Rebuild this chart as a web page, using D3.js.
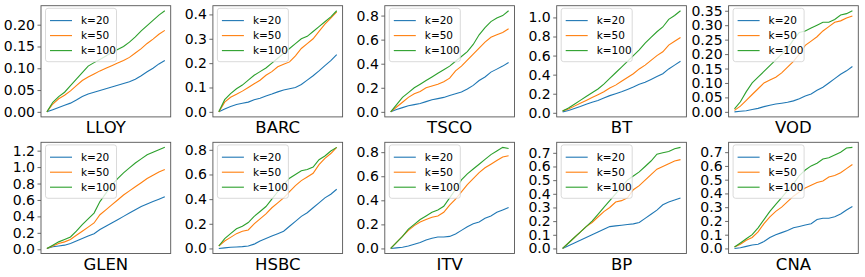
<!DOCTYPE html>
<html>
<head>
<meta charset="utf-8">
<script src="https://cdn.jsdelivr.net/npm/d3@7"></script>
<style>
  body { margin: 0; background: #fff; }
  text { font-family: "DejaVu Sans", sans-serif; }
</style>
</head>
<body>
<svg id="chart" width="865" height="277"></svg>
<script>
// series: k=20, k=50, k=100 (21 evenly spaced steps each)
var stocks = ["LLOY", "BARC", "TSCO", "BT", "VOD", "GLEN", "HSBC", "ITV", "BP", "CNA"];
var kLabels = ["k=20", "k=50", "k=100"];
var colors = ["#1f77b4", "#ff7f0e", "#2ca02c"];

var lloy = [
  [0, 0.005, 0.01, 0.015, 0.02, 0.027, 0.035, 0.041, 0.045, 0.049, 0.053, 0.057, 0.061, 0.065, 0.069, 0.075, 0.083, 0.092, 0.1, 0.11, 0.118],
  [0, 0.018, 0.03, 0.038, 0.048, 0.06, 0.072, 0.08, 0.087, 0.094, 0.1, 0.106, 0.112, 0.118, 0.125, 0.135, 0.145, 0.157, 0.167, 0.178, 0.187],
  [0, 0.022, 0.035, 0.045, 0.06, 0.075, 0.09, 0.105, 0.113, 0.12, 0.128, 0.136, 0.143, 0.15, 0.16, 0.172, 0.186, 0.198, 0.21, 0.222, 0.232]
];
var barc = [
  [0, 0.012, 0.022, 0.03, 0.035, 0.04, 0.05, 0.056, 0.065, 0.073, 0.082, 0.09, 0.095, 0.1, 0.112, 0.13, 0.148, 0.168, 0.19, 0.21, 0.235],
  [0, 0.04, 0.06, 0.072, 0.085, 0.1, 0.115, 0.13, 0.15, 0.165, 0.185, 0.195, 0.205, 0.23, 0.26, 0.28, 0.3, 0.33, 0.36, 0.385, 0.41],
  [0, 0.05, 0.075, 0.095, 0.11, 0.13, 0.15, 0.165, 0.18, 0.2, 0.22, 0.24, 0.26, 0.28, 0.3, 0.31, 0.33, 0.35, 0.37, 0.39, 0.415]
];
var tsco = [
  [0, 0.02, 0.035, 0.05, 0.06, 0.07, 0.085, 0.1, 0.11, 0.12, 0.135, 0.15, 0.165, 0.19, 0.22, 0.26, 0.29, 0.33, 0.355, 0.38, 0.41],
  [0, 0.04, 0.08, 0.12, 0.15, 0.17, 0.2, 0.215, 0.23, 0.25, 0.28, 0.34, 0.38, 0.43, 0.48, 0.53, 0.58, 0.62, 0.64, 0.66, 0.69],
  [0, 0.06, 0.12, 0.16, 0.2, 0.23, 0.26, 0.29, 0.32, 0.35, 0.38, 0.42, 0.46, 0.5, 0.56, 0.64, 0.7, 0.75, 0.78, 0.8, 0.84]
];
var bt = [
  [0.01, 0.025, 0.045, 0.065, 0.09, 0.11, 0.13, 0.155, 0.18, 0.2, 0.22, 0.245, 0.27, 0.3, 0.32, 0.35, 0.38, 0.41, 0.46, 0.5, 0.54],
  [0.02, 0.04, 0.07, 0.1, 0.13, 0.16, 0.19, 0.22, 0.26, 0.29, 0.33, 0.37, 0.41, 0.46, 0.5, 0.55, 0.6, 0.64, 0.71, 0.75, 0.79],
  [0.02, 0.05, 0.09, 0.13, 0.17, 0.21, 0.25, 0.3, 0.36, 0.42, 0.48, 0.54, 0.6, 0.66, 0.73, 0.79, 0.85, 0.9, 0.98, 1.02, 1.07]
];
var vod = [
  [0, 0.002, 0.004, 0.008, 0.012, 0.018, 0.023, 0.027, 0.03, 0.033, 0.038, 0.045, 0.055, 0.062, 0.075, 0.085, 0.1, 0.115, 0.13, 0.142, 0.157],
  [0.005, 0.02, 0.04, 0.06, 0.08, 0.1, 0.11, 0.12, 0.135, 0.155, 0.175, 0.2, 0.23, 0.245, 0.26, 0.28, 0.295, 0.31, 0.315, 0.325, 0.332],
  [0.01, 0.035, 0.07, 0.1, 0.12, 0.14, 0.16, 0.18, 0.2, 0.22, 0.25, 0.275, 0.28, 0.29, 0.3, 0.31, 0.31, 0.32, 0.335, 0.34, 0.35]
];
var glen = [
  [0.01, 0.03, 0.04, 0.05, 0.07, 0.1, 0.13, 0.16, 0.19, 0.24, 0.28, 0.32, 0.36, 0.4, 0.44, 0.48, 0.52, 0.55, 0.58, 0.61, 0.64],
  [0.01, 0.04, 0.07, 0.09, 0.12, 0.17, 0.22, 0.27, 0.32, 0.42, 0.48, 0.54, 0.6, 0.66, 0.71, 0.76, 0.81, 0.86, 0.9, 0.94, 0.97],
  [0.01, 0.05, 0.09, 0.12, 0.15, 0.22, 0.3, 0.37, 0.44, 0.58, 0.68, 0.78, 0.86, 0.93, 0.99, 1.05, 1.1, 1.15, 1.18, 1.21, 1.24]
];
var hsbc = [
  [0, 0.005, 0.01, 0.012, 0.015, 0.02, 0.035, 0.06, 0.08, 0.1, 0.12, 0.14, 0.18, 0.22, 0.26, 0.29, 0.33, 0.37, 0.41, 0.44, 0.48],
  [0.02, 0.06, 0.09, 0.12, 0.14, 0.15, 0.2, 0.24, 0.28, 0.33, 0.37, 0.41, 0.46, 0.51, 0.55, 0.58, 0.61, 0.68, 0.73, 0.77, 0.82],
  [0.02, 0.08, 0.12, 0.16, 0.18, 0.21, 0.26, 0.3, 0.34, 0.4, 0.46, 0.52, 0.57, 0.6, 0.63, 0.64, 0.66, 0.72, 0.75, 0.79, 0.82]
];
var itv = [
  [0, 0.005, 0.01, 0.02, 0.035, 0.05, 0.07, 0.085, 0.095, 0.095, 0.1, 0.12, 0.15, 0.18, 0.205, 0.22, 0.25, 0.27, 0.3, 0.32, 0.34],
  [0, 0.05, 0.1, 0.15, 0.19, 0.22, 0.24, 0.26, 0.27, 0.3, 0.36, 0.41, 0.47, 0.53, 0.58, 0.63, 0.67, 0.7, 0.73, 0.76, 0.77],
  [0, 0.05, 0.1, 0.16, 0.2, 0.24, 0.27, 0.3, 0.32, 0.35, 0.42, 0.49, 0.57, 0.62, 0.66, 0.7, 0.74, 0.78, 0.81, 0.84, 0.83]
];
var bp = [
  [0, 0.02, 0.04, 0.06, 0.08, 0.1, 0.12, 0.14, 0.16, 0.165, 0.17, 0.175, 0.18, 0.19, 0.22, 0.25, 0.28, 0.32, 0.34, 0.355, 0.37],
  [0, 0.04, 0.08, 0.12, 0.16, 0.19, 0.23, 0.27, 0.3, 0.34, 0.35, 0.37, 0.43, 0.46, 0.5, 0.54, 0.58, 0.6, 0.62, 0.64, 0.65],
  [0, 0.04, 0.08, 0.12, 0.16, 0.2, 0.25, 0.3, 0.35, 0.4, 0.45, 0.5, 0.53, 0.56, 0.6, 0.64, 0.69, 0.7, 0.71, 0.73, 0.74]
];
var cna = [
  [0, 0.005, 0.015, 0.025, 0.03, 0.05, 0.08, 0.1, 0.115, 0.13, 0.15, 0.16, 0.17, 0.18, 0.21, 0.22, 0.22, 0.23, 0.25, 0.28, 0.305],
  [0.01, 0.03, 0.06, 0.08, 0.12, 0.18, 0.23, 0.27, 0.3, 0.34, 0.38, 0.41, 0.44, 0.46, 0.48, 0.49, 0.52, 0.53, 0.55, 0.58, 0.61],
  [0.01, 0.04, 0.07, 0.1, 0.15, 0.21, 0.27, 0.32, 0.37, 0.42, 0.47, 0.53, 0.57, 0.6, 0.62, 0.65, 0.66, 0.68, 0.7, 0.73, 0.735]
];

// y tick labels per panel
var lloyTicks = ["0.00", "0.05", "0.10", "0.15", "0.20"];
var barcTicks = ["0.0", "0.1", "0.2", "0.3", "0.4"];
var tscoTicks = ["0.0", "0.2", "0.4", "0.6", "0.8"];
var btTicks = ["0.0", "0.2", "0.4", "0.6", "0.8", "1.0"];
var vodTicks = ["0.00", "0.05", "0.10", "0.15", "0.20", "0.25", "0.30", "0.35"];
var glenTicks = ["0.0", "0.2", "0.4", "0.6", "0.8", "1.0", "1.2"];
var hsbcTicks = ["0.0", "0.2", "0.4", "0.6", "0.8"];
var itvTicks = ["0.0", "0.2", "0.4", "0.6", "0.8"];
var bpTicks = ["0.0", "0.1", "0.2", "0.3", "0.4", "0.5", "0.6", "0.7"];
var cnaTicks = ["0.0", "0.1", "0.2", "0.3", "0.4", "0.5", "0.6", "0.7"];

var panelSeries = [lloy, barc, tsco, bt, vod, glen, hsbc, itv, bp, cna];
var panelTicks = [lloyTicks, barcTicks, tscoTicks, btTicks, vodTicks, glenTicks, hsbcTicks, itvTicks, bpTicks, cnaTicks];

const plotW = 129.7;
const plotH = 111.2;
const colStep = 171.9;
const left0 = 41;
const rowTops = [5.7, 142.3];

var svg = d3.select("#chart");

stocks.forEach(function(name, i) {
  var series = panelSeries[i];
  var col = i % 5;
  var row = Math.floor(i / 5);
  var g = svg.append("g")
    .attr("transform", "translate(" + (left0 + col * colStep) + "," + rowTops[row] + ")");

  var n = series[0].length;
  var x = d3.scaleLinear()
    .domain([-(n - 1) * 0.05, (n - 1) * 1.05])
    .range([0, plotW]);

  var all = d3.merge(series);
  var lo = d3.min(all), hi = d3.max(all);
  var pad = (hi - lo) * 0.05;
  var y = d3.scaleLinear()
    .domain([lo - pad, hi + pad])
    .range([plotH, 0]);

  var line = d3.line()
    .x(function(d, j) { return x(j); })
    .y(function(d) { return y(d); });

  g.selectAll("path.series")
    .data(series)
    .enter()
    .append("path")
    .attr("class", "series")
    .attr("d", line)
    .attr("fill", "none")
    .attr("stroke", function(d, k) { return colors[k]; })
    .attr("stroke-width", 1.1)
    ;

  // legend, upper left
  var leg = g.append("g")
    .attr("transform", "translate(4.5,2.6)");

  leg.append("rect")
    .attr("width", 71)
    .attr("height", 53.4)
    .attr("rx", 2.5)
    .attr("fill", "#fff")
    .attr("fill-opacity", 0.8)
    .attr("stroke", "#d0d0d0")
    .attr("stroke-width", 0.8)
    ;

  var items = leg.selectAll("g.legenditem")
    .data(kLabels)
    .enter()
    .append("g")
    .attr("class", "legenditem")
    .attr("transform", function(d, k) { return "translate(0," + (12.3 + k * 15) + ")"; })
    ;

  items.append("line")
    .attr("x1", 4.5)
    .attr("x2", 26.5)
    .attr("stroke", function(d, k) { return colors[k]; })
    .attr("stroke-width", 1.1)
    ;

  items.append("text")
    .attr("x", 35.5)
    .attr("dy", "0.35em")
    .attr("font-size", 10.5)
    .attr("fill", "#000")
    .text(function(d) { return d; })
    ;

  // y axis
  var ticks = panelTicks[i];
  var axis = d3.axisLeft(y)
    .tickValues(ticks.map(Number))
    .tickFormat(function(d, k) { return ticks[k]; })
    .tickSize(3.5)
    .tickPadding(2.5);

  var ax = g.append("g").call(axis);
  ax.select(".domain").remove();
  ax.selectAll("text")
    .attr("font-size", 14)
    .attr("font-family", "DejaVu Sans, sans-serif")
    .attr("fill", "#000");
  ax.selectAll("line").attr("stroke", "#444").attr("stroke-width", 0.8);

  // frame
  g.append("rect")
    .attr("width", plotW)
    .attr("height", plotH)
    .attr("fill", "none")
    .attr("stroke", "#555")
    .attr("stroke-width", 0.9)
    ;

  g.append("text")
    .attr("x", plotW / 2)
    .attr("y", plotH + 16.5)
    .attr("text-anchor", "middle")
    .attr("font-size", 16.5)
    .attr("fill", "#000")
    .text(name)
    ;
});
</script>
</body>
</html>
